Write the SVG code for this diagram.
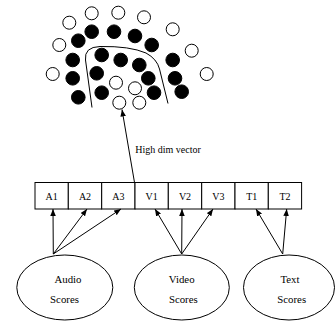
<svg xmlns="http://www.w3.org/2000/svg" width="336" height="322" viewBox="0 0 336 322">
<defs>
<style>
.o{fill:#fff;stroke:#000;stroke-width:1}
.f{fill:#000;stroke:#000;stroke-width:1}
.box{fill:#fff;stroke:#000;stroke-width:1}
.t{font-family:"Liberation Serif","Times New Roman",serif;font-size:10px;fill:#000;text-anchor:middle}
.s{font-family:"Liberation Serif","Times New Roman",serif;font-size:10.8px;fill:#000;text-anchor:middle}
.c{fill:none;stroke:#000;stroke-width:1}
</style>
<marker id="ah" viewBox="0 0 10 8" refX="10" refY="4" markerWidth="7" markerHeight="5.6" markerUnits="userSpaceOnUse" orient="auto">
<path d="M0,0 L10,4 L0,8 Z" fill="#000"/>
</marker>
</defs>
<rect width="336" height="322" fill="#fff"/>
<g id="cluster">
<circle class="o" cx="69.3" cy="22.7" r="6.5"/>
<circle class="o" cx="91.7" cy="13.3" r="6.5"/>
<circle class="o" cx="118.3" cy="12.7" r="6.5"/>
<circle class="o" cx="144" cy="17.3" r="6.5"/>
<circle class="o" cx="172.7" cy="29.3" r="6.5"/>
<circle class="o" cx="59.3" cy="45" r="6.5"/>
<circle class="o" cx="191.7" cy="50.7" r="6.5"/>
<circle class="o" cx="52.7" cy="74" r="6.5"/>
<circle class="o" cx="206.7" cy="74" r="6.5"/>
<circle class="o" cx="116" cy="82.7" r="6.5"/>
<circle class="o" cx="135" cy="88.3" r="6.5"/>
<circle class="o" cx="119.3" cy="102.7" r="6.5"/>
<circle class="o" cx="139.3" cy="102.7" r="6.5"/>
<circle class="f" cx="91.7" cy="31.7" r="6.8"/>
<circle class="f" cx="114" cy="31.7" r="6.8"/>
<circle class="f" cx="135" cy="36" r="6.8"/>
<circle class="f" cx="78.3" cy="40.7" r="6.8"/>
<circle class="f" cx="151.7" cy="45" r="6.8"/>
<circle class="f" cx="72.7" cy="60" r="6.8"/>
<circle class="f" cx="101.7" cy="55" r="6.8"/>
<circle class="f" cx="120.7" cy="60" r="6.8"/>
<circle class="f" cx="139.3" cy="65" r="6.8"/>
<circle class="f" cx="172.7" cy="60" r="6.8"/>
<circle class="f" cx="72.7" cy="78.3" r="6.8"/>
<circle class="f" cx="96.7" cy="73.3" r="6.8"/>
<circle class="f" cx="148.3" cy="78.3" r="6.8"/>
<circle class="f" cx="175" cy="78.3" r="6.8"/>
<circle class="f" cx="78.3" cy="97.3" r="6.8"/>
<circle class="f" cx="101.7" cy="92.7" r="6.8"/>
<circle class="f" cx="154" cy="92.7" r="6.8"/>
<circle class="f" cx="181.7" cy="91.7" r="6.8"/>
<path class="c" d="M92,107.5 L85.5,60 Q84,47 100,46.5 Q130,46 146,53 Q157,59 159.5,69 L168,103.5"/>
</g>
<g id="A1"><rect class="box" x="35" y="182.5" width="33.3" height="26.5"/><text class="t" x="51.7" y="200">A1</text></g>
<g id="A2"><rect class="box" x="68.3" y="182.5" width="33.3" height="26.5"/><text class="t" x="85" y="200">A2</text></g>
<g id="A3"><rect class="box" x="101.7" y="182.5" width="33.3" height="26.5"/><text class="t" x="118.3" y="200">A3</text></g>
<g id="V1"><rect class="box" x="135" y="182.5" width="33.3" height="26.5"/><text class="t" x="151.7" y="200">V1</text></g>
<g id="V2"><rect class="box" x="168.3" y="182.5" width="33.3" height="26.5"/><text class="t" x="185" y="200">V2</text></g>
<g id="V3"><rect class="box" x="201.7" y="182.5" width="33.3" height="26.5"/><text class="t" x="218.3" y="200">V3</text></g>
<g id="T1"><rect class="box" x="235" y="182.5" width="33.3" height="26.5"/><text class="t" x="251.7" y="200">T1</text></g>
<g id="T2"><rect class="box" x="268.3" y="182.5" width="33.3" height="26.5"/><text class="t" x="285" y="200">T2</text></g>
<g id="audio"><ellipse class="box" cx="64.8" cy="287.5" rx="48" ry="32.5"/><text class="s" x="68" y="283">Audio</text><text class="s" x="64.5" y="302.5">Scores</text></g>
<g id="video"><ellipse class="box" cx="181.8" cy="287.5" rx="47.5" ry="32.5"/><text class="s" x="181.7" y="283">Video</text><text class="s" x="183.3" y="302.5">Scores</text></g>
<g id="text"><ellipse class="box" cx="289" cy="287.5" rx="45.5" ry="32.5"/><text class="s" x="290" y="283">Text</text><text class="s" x="291.7" y="302.5">Scores</text></g>
<g id="connectors">
<line class="c" x1="134.5" y1="182.5" x2="122" y2="109.5" marker-end="url(#ah)"/>
<text class="t" x="168" y="153" font-size="9.5">High dim vector</text>
<line class="c" x1="53.3" y1="254" x2="53" y2="209" marker-end="url(#ah)"/>
<line class="c" x1="53.3" y1="254" x2="87" y2="209" marker-end="url(#ah)"/>
<line class="c" x1="53.3" y1="254" x2="121" y2="209" marker-end="url(#ah)"/>
<line class="c" x1="181.7" y1="254" x2="155" y2="209" marker-end="url(#ah)"/>
<line class="c" x1="181.7" y1="254" x2="182" y2="209" marker-end="url(#ah)"/>
<line class="c" x1="181.7" y1="254" x2="213" y2="209" marker-end="url(#ah)"/>
<line class="c" x1="282.7" y1="254" x2="256" y2="209" marker-end="url(#ah)"/>
<line class="c" x1="282.7" y1="254" x2="286.7" y2="209" marker-end="url(#ah)"/>
</g>
</svg>
